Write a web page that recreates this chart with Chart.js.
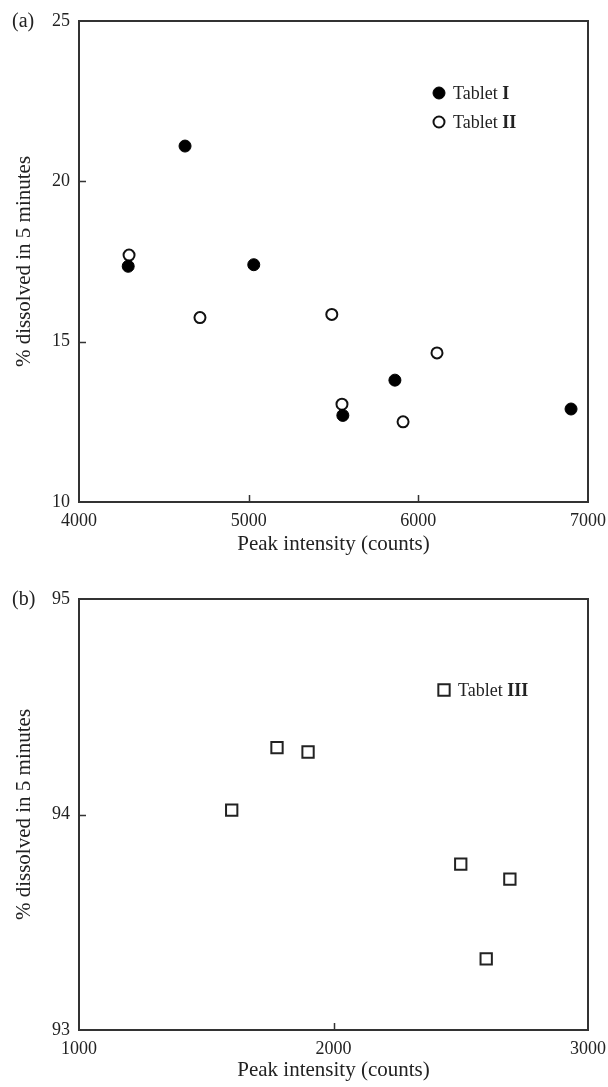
<!DOCTYPE html>
<html><head><meta charset="utf-8">
<script src="https://cdn.jsdelivr.net/npm/chart.js@4/dist/chart.umd.min.js"></script>
<style>
html,body{margin:0;padding:0;background:#fff;width:608px;height:1087px;overflow:hidden}
.wrap{position:absolute;left:0;width:608px}
canvas{display:block}
</style></head><body>
<div class="wrap" style="top:0;height:560px"><canvas id="ca" width="608" height="560"></canvas></div>
<div class="wrap" style="top:560px;height:527px"><canvas id="cb" width="608" height="527"></canvas></div>
<script>
// ---- Data ----
const xTicksA = [4000, 5000, 6000, 7000];
const yTicksA = [10, 15, 20, 25];
const tablet1X = [4290, 4625, 5030, 5555, 5862, 6900];
const tablet1Y = [17.35, 21.1, 17.4, 12.7, 13.8, 12.9];
const tablet2X = [4295, 4713, 5490, 5550, 5910, 6110];
const tablet2Y = [17.7, 15.75, 15.85, 13.05, 12.5, 14.65];

const xTicksB = [1000, 2000, 3000];
const yTicksB = [93, 94, 95];
const tablet3X = [1600, 1778, 1900, 2500, 2693, 2600];
const tablet3Y = [94.02, 94.31, 94.29, 93.77, 93.7, 93.33];

const xTitle = 'Peak intensity (counts)';
const yTitle = '% dissolved in 5 minutes';

const SERIF = '"Liberation Serif","DejaVu Serif",serif';
const INK = '#222';
const FRAME = '#333';

function pts(xs, ys){ return xs.map((x,i)=>({x:x, y:ys[i]})); }

const framePlugin = {
  id: 'frame',
  afterDraw(chart, args, opts){
    const {ctx, chartArea:a} = chart;
    ctx.save();
    ctx.strokeStyle = FRAME;
    ctx.lineWidth = 2;
    ctx.strokeRect(a.left, a.top, a.right - a.left, a.bottom - a.top);
    // inward tick marks on bottom and left
    const xs = chart.scales.x, ys = chart.scales.y;
    ctx.lineWidth = 1.5;
    ctx.beginPath();
    xs.ticks.forEach((t,i)=>{
      if (i===0 || i===xs.ticks.length-1) return;
      const px = Math.round(xs.getPixelForValue(t.value)) + 0.5;
      ctx.moveTo(px, a.bottom); ctx.lineTo(px, a.bottom - 7);
    });
    ys.ticks.forEach((t,i)=>{
      if (i===0 || i===ys.ticks.length-1) return;
      const py = Math.round(ys.getPixelForValue(t.value)) + 0.5;
      ctx.moveTo(a.left, py); ctx.lineTo(a.left + 7, py);
    });
    ctx.stroke();
    // panel label
    ctx.fillStyle = INK;
    ctx.font = '20px ' + SERIF;
    ctx.textBaseline = 'middle';
    ctx.textAlign = 'left';
    ctx.fillText(opts.label, 12, a.top + 1);
    // legend
    (opts.legend || []).forEach((item, k)=>{
      const ds = chart.data.datasets[item.ds];
      const mx = a.left + opts.lx, my = a.top + opts.ly + k * 29;
      ctx.save();
      ctx.fillStyle = ds.backgroundColor;
      ctx.strokeStyle = ds.borderColor;
      ctx.lineWidth = ds.borderWidth;
      Chart.helpers.drawPoint(ctx, {pointStyle: ds.pointStyle, radius: ds.pointRadius, borderWidth: ds.borderWidth}, mx, my);
      ctx.restore();
      ctx.fillStyle = INK;
      ctx.textBaseline = 'middle';
      ctx.textAlign = 'left';
      ctx.font = '18px ' + SERIF;
      let tx = mx + 14;
      ctx.fillText(item.text, tx, my + 1);
      tx += ctx.measureText(item.text).width;
      ctx.font = 'bold 18px ' + SERIF;
      ctx.fillText(item.bold, tx, my + 1);
    });
    ctx.restore();
  }
};

function axes(xmin, xmax, xt, ymin, ymax, yt, xh){
  return {
    x: {
      type: 'linear', min: xmin, max: xmax,
      afterBuildTicks: s => { s.ticks = xt.map(v=>({value:v})); },
      afterFit: s => { s.height = xh; s.paddingLeft = 0; s.paddingRight = 0; },
      grid: {display:false, drawTicks:false},
      border: {display:false},
      ticks: {color: INK, font: {family: SERIF, size: 18}, padding: 8, maxRotation: 0, autoSkip: false,
              callback: v => String(v)},
      title: {display:true, text: xTitle, color: INK, font:{family: SERIF, size: 21}, padding: 0}
    },
    y: {
      type: 'linear', min: ymin, max: ymax,
      afterBuildTicks: s => { s.ticks = yt.map(v=>({value:v})); },
      afterFit: s => { s.width = 67; s.paddingTop = 0; s.paddingBottom = 0; },
      grid: {display:false, drawTicks:false},
      border: {display:false},
      ticks: {color: INK, font: {family: SERIF, size: 18}, padding: 9, autoSkip: false,
              callback: v => String(v)},
      title: {display:true, text: yTitle, color: INK, font:{family: SERIF, size: 21}, padding: 0}
    }
  };
}

new Chart(document.getElementById('ca'), {
  type: 'scatter',
  data: { datasets: [
    {label:'Tablet I', data: pts(tablet1X, tablet1Y), pointStyle:'circle', pointRadius:6, pointHoverRadius:6,
     backgroundColor:'#000', borderColor:'#000', borderWidth:1},
    {label:'Tablet II', data: pts(tablet2X, tablet2Y), pointStyle:'circle', pointRadius:5.5, pointHoverRadius:5.5,
     backgroundColor:'#fff', borderColor:'#111', borderWidth:2}
  ]},
  options: {
    responsive:false, animation:false, events:[],
    layout: {padding: {left:12, right:20, top:21, bottom:3}},
    plugins: {legend:{display:false}, tooltip:{enabled:false},
      frame: {label:'(a)', lx:360, ly:72, legend:[{ds:0,text:'Tablet ',bold:'I'},{ds:1,text:'Tablet ',bold:'II'}]}},
    scales: axes(4000, 7000, xTicksA, 10, 25, yTicksA, 55)
  },
  plugins:[framePlugin]
});

new Chart(document.getElementById('cb'), {
  type: 'scatter',
  data: { datasets: [
    {label:'Tablet III', data: pts(tablet3X, tablet3Y), pointStyle:'rect', pointRadius:8, pointHoverRadius:8,
     backgroundColor:'#fff', borderColor:'#222', borderWidth:2}
  ]},
  options: {
    responsive:false, animation:false, events:[],
    layout: {padding: {left:12, right:20, top:39, bottom:4}},
    plugins: {legend:{display:false}, tooltip:{enabled:false},
      frame: {label:'(b)', lx:365, ly:91, legend:[{ds:0,text:'Tablet ',bold:'III'}]}},
    scales: axes(1000, 3000, xTicksB, 93, 95, yTicksB, 53)
  },
  plugins:[framePlugin]
});
</script>
</body></html>
